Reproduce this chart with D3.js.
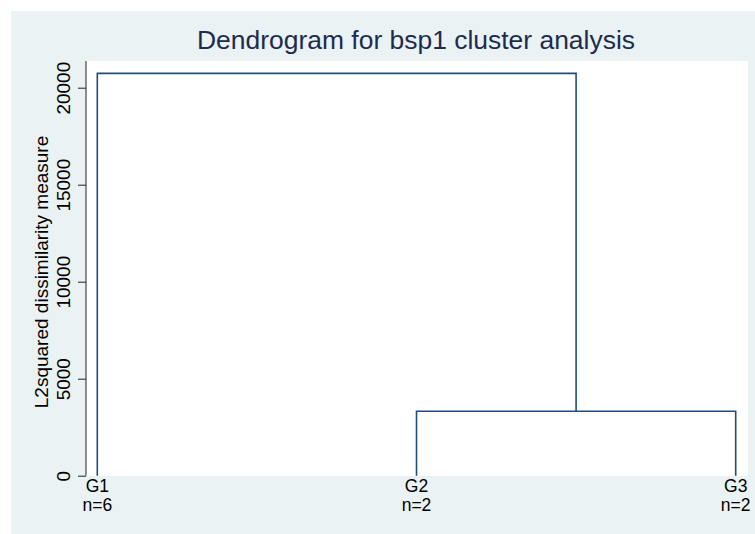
<!DOCTYPE html>
<html>
<head>
<meta charset="utf-8">
<script src="https://cdn.jsdelivr.net/npm/d3@7"></script>
<style>
  body { margin: 0; background: #fff; }
  text { font-family: "Liberation Sans", Arial, sans-serif; }
</style>
</head>
<body>
<script>
// Chart values
var leaves = ["G1", "G2", "G3"];
var leafCounts = [6, 2, 2];
// merges: cluster ids are leaf names or "C" + merge index
var mergeLeft = ["G2", "G1"];
var mergeRight = ["G3", "C0"];
var mergeHeight = [3320, 20740];
var yTicks = [0, 5000, 10000, 15000, 20000];

var titleText = "Dendrogram for bsp1 cluster analysis";
var yLabelText = "L2squared dissimilarity measure";

var width = 755,
    height = 534;

var svg = d3.select("body")
    .append("svg")
    .attr("width", width)
    .attr("height", height);

// graph region and plot region
var plot = { left: 86, right: 748, top: 61, bottom: 476 };

svg.append("rect")
    .attr("x", 11).attr("y", 11)
    .attr("width", width - 11).attr("height", height - 11)
    .attr("fill", "#eaf2f3");

svg.append("rect")
    .attr("x", plot.left).attr("y", plot.top)
    .attr("width", plot.right - plot.left).attr("height", plot.bottom - plot.top)
    .attr("fill", "#ffffff");

// scales
var x = d3.scalePoint()
    .domain(leaves)
    .range([97.3, 735.7]);

var y = d3.scaleLinear()
    .domain([0, 20000])
    .range([475.7, 87.7]);

// y axis
var yAxis = d3.axisLeft(y)
    .tickValues(yTicks)
    .tickSize(8)
    .tickFormat(d3.format("d"));

var gy = svg.append("g")
    .attr("transform", "translate(" + plot.left + ",0)")
    .call(yAxis);

gy.select(".domain")
    .attr("d", "M0," + plot.top + "V" + y(0))
    .attr("stroke", "#222");
gy.selectAll(".tick line").attr("stroke", "#222");
gy.selectAll(".tick text")
    .attr("x", null).attr("dy", null)
    .attr("transform", "translate(-16.5,0) rotate(-90)")
    .attr("text-anchor", "middle")
    .attr("font-size", 19)
    .attr("font-family", "Liberation Sans, Arial, sans-serif")
    .attr("fill", "#000");

// y label
svg.append("text")
    .attr("transform", "translate(48," + 272 + ") rotate(-90)")
    .attr("text-anchor", "middle")
    .attr("font-size", 19)
    .attr("fill", "#000")
    .text(yLabelText);

// title
svg.append("text")
    .attr("x", 416)
    .attr("y", 49)
    .attr("text-anchor", "middle")
    .attr("font-size", 25)
    .attr("textLength", 438)
    .attr("lengthAdjust", "spacingAndGlyphs")
    .attr("fill", "#1e2b4f")
    .text(titleText);

// build node positions from merges
var nodeX = {}, nodeH = {};
leaves.forEach(function (l) { nodeX[l] = x(l); nodeH[l] = 0; });

var lines = [];
mergeHeight.forEach(function (h, i) {
    var a = mergeLeft[i], b = mergeRight[i], id = "C" + i;
    lines.push([[nodeX[a], y(nodeH[a])], [nodeX[a], y(h)], [nodeX[b], y(h)], [nodeX[b], y(nodeH[b])]]);
    nodeX[id] = (nodeX[a] + nodeX[b]) / 2;
    nodeH[id] = h;
});

svg.selectAll(".link")
    .data(lines)
    .enter()
    .append("path")
    .attr("class", "link")
    .attr("d", d3.line())
    .attr("fill", "none")
    .attr("stroke", "#1f4e79")
    .attr("stroke-width", 1.6);

// leaf labels
var lab = svg.selectAll(".leaf")
    .data(leaves)
    .enter()
    .append("g")
    .attr("class", "leaf")
    .attr("transform", function (d) { return "translate(" + x(d) + ",0)"; });

lab.append("text")
    .attr("y", 492)
    .attr("text-anchor", "middle")
    .attr("font-size", 17.5)
    .attr("fill", "#000")
    .text(function (d) { return d; });

lab.append("text")
    .attr("y", 511)
    .attr("text-anchor", "middle")
    .attr("font-size", 17.5)
    .attr("fill", "#000")
    .text(function (d, i) { return "n=" + leafCounts[i]; });
</script>
</body>
</html>
